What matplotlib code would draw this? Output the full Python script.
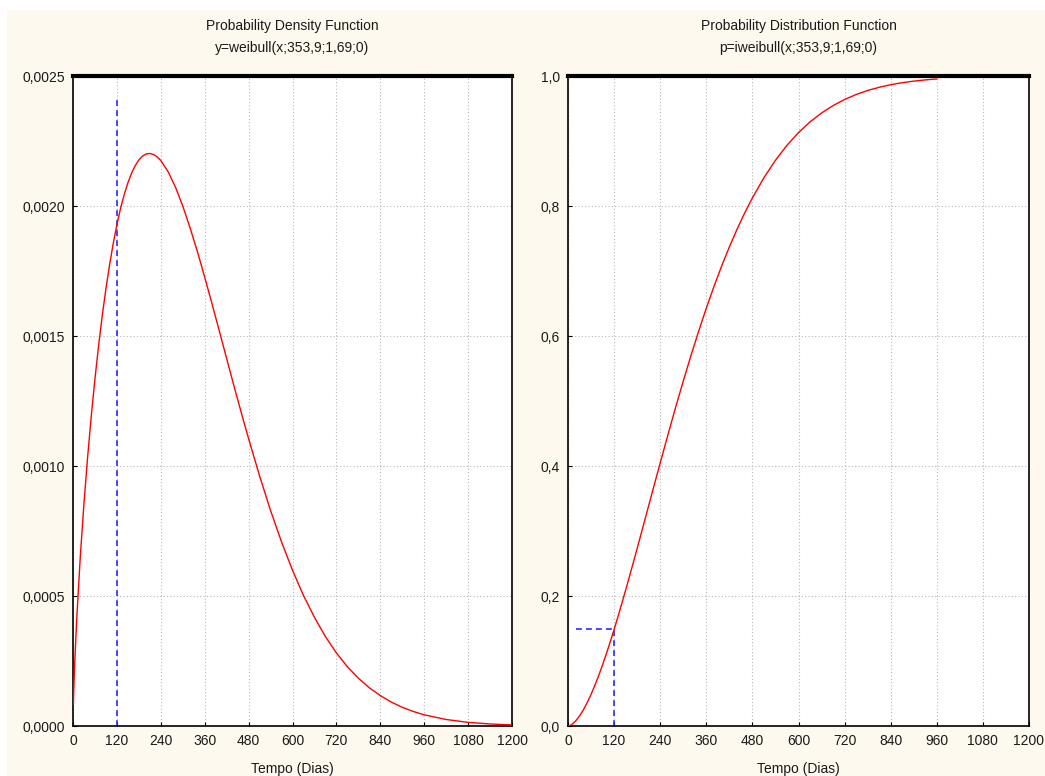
import matplotlib
matplotlib.use('Agg')
import matplotlib.pyplot as plt
from matplotlib.patches import Rectangle
from matplotlib.ticker import FuncFormatter

plt.rcParams['font.family'] = ['Liberation Sans', 'DejaVu Sans']

# valores (Weibull, escala 353,9 ; forma 1,69)
x_pdf = [1, 2, 3, 5, 10, 20, 30, 40, 50, 60, 70, 80, 90, 100, 110, 120, 130, 140, 150, 160,
         170, 180, 190, 200, 210, 220, 230, 240, 260, 280, 300, 320, 340, 360, 380, 400, 420,
         440, 460, 480, 510, 540, 570, 600, 630, 660, 690, 720, 750, 780, 810, 840, 870, 900,
         930, 960, 1020, 1080, 1140, 1200]
y_pdf = [0.000083, 0.000134, 0.000178, 0.000253, 0.000407, 0.000653, 0.000857, 0.001035,
         0.001193, 0.001335, 0.001463, 0.001579, 0.001682, 0.001774, 0.001856, 0.001928,
         0.001991, 0.002044, 0.002089, 0.002126, 0.002155, 0.002177, 0.002192, 0.002200,
         0.002202, 0.002198, 0.002189, 0.002175, 0.002132, 0.002073, 0.002000, 0.001916,
         0.001825, 0.001726, 0.001624, 0.001519, 0.001413, 0.001308, 0.001205, 0.001105,
         0.000962, 0.000829, 0.000708, 0.000599, 0.000502, 0.000418, 0.000344, 0.000281,
         0.000228, 0.000184, 0.000147, 0.000117, 0.000092, 0.000072, 0.000056, 0.000043,
         0.000025, 0.000014, 0.0000078, 0.0000042]

x_cdf = [0, 5, 10, 20, 30, 40, 50, 60, 70, 80, 90, 100, 110, 120, 130, 140, 150, 160, 170,
         180, 190, 200, 210, 220, 230, 240, 260, 280, 300, 320, 340, 360, 380, 400, 420, 440,
         460, 480, 510, 540, 570, 600, 630, 660, 690, 720, 750, 780, 810, 840, 870, 900, 930, 960]
y_cdf = [0.0, 0.0007, 0.0024, 0.0078, 0.0153, 0.0248, 0.0360, 0.0486, 0.0626, 0.0778, 0.0941,
         0.1114, 0.1296, 0.1485, 0.1681, 0.1883, 0.2090, 0.2300, 0.2515, 0.2731, 0.2950,
         0.3170, 0.3390, 0.3610, 0.3830, 0.4047, 0.4478, 0.4899, 0.5306, 0.5698, 0.6072,
         0.6428, 0.6763, 0.7077, 0.7370, 0.7642, 0.7894, 0.8125, 0.8435, 0.8703, 0.8934,
         0.9129, 0.9294, 0.9431, 0.9545, 0.9639, 0.9715, 0.9777, 0.9826, 0.9866, 0.9897,
         0.9921, 0.9940, 0.9955]

x_ticks = [0, 120, 240, 360, 480, 600, 720, 840, 960, 1080, 1200]
pdf_ticks = [0.0, 0.0005, 0.0010, 0.0015, 0.0020, 0.0025]
cdf_ticks = [0.0, 0.2, 0.4, 0.6, 0.8, 1.0]

t_mark = 120        # tempo marcado
p_mark = 0.15       # probabilidade marcada
pdf_line_top = 0.00242

titles = [('Probability Density Function', 'y=weibull(x;353,9;1,69;0)'),
          ('Probability Distribution Function', 'p=iweibull(x;353,9;1,69;0)')]

W, H = 1045, 776
bg = '#fef9ef'
txt = '#1a1a1a'
blue = '#2a2aff'

fig = plt.figure(figsize=(W / 100, H / 100), dpi=100, facecolor='white')
fig.patches.append(Rectangle((7 / W, 0), 1, (H - 10) / H, transform=fig.transFigure,
                             facecolor=bg, edgecolor='none', zorder=-10))

boxes = [(73, 512), (568, 1029)]
top, bottom = 76, 726
axes = []
for (x0, x1) in boxes:
    ax = fig.add_axes([x0 / W, (H - bottom) / H, (x1 - x0) / W, (bottom - top) / H])
    ax.set_facecolor('white')
    axes.append(ax)

ax1, ax2 = axes

ax1.plot(x_pdf, y_pdf, color='#ff0000', lw=1.0, zorder=3)
ax1.plot([t_mark, t_mark], [0, pdf_line_top], color=blue, lw=1.2,
         linestyle=(0, (3.5, 2.5)), zorder=2)
ax1.set_ylim(0, pdf_ticks[-1])
ax1.set_yticks(pdf_ticks)
ax1.yaxis.set_major_formatter(FuncFormatter(lambda v, p: ('%.4f' % v).replace('.', ',')))

ax2.plot(x_cdf, y_cdf, color='#ff0000', lw=1.0, zorder=3)
ax2.plot([20, t_mark], [p_mark, p_mark], color=blue, lw=1.2,
         linestyle=(0, (3.5, 2.5)), zorder=2)
ax2.plot([t_mark, t_mark], [0, p_mark], color=blue, lw=1.2,
         linestyle=(0, (3.5, 2.5)), zorder=2)
ax2.set_ylim(0, cdf_ticks[-1])
ax2.set_yticks(cdf_ticks)
ax2.yaxis.set_major_formatter(FuncFormatter(lambda v, p: ('%.1f' % v).replace('.', ',')))

for ax, (t1, t2), (x0, x1) in zip(axes, titles, boxes):
    ax.set_xlim(0, 1200)
    ax.set_xticks(x_ticks)
    ax.grid(True, linestyle=(0, (1, 2)), color='#b8b8b8', lw=0.8)
    ax.set_axisbelow(True)
    ax.tick_params(direction='in', length=3, width=0.8, labelsize=10, pad=6,
                   colors='black', labelcolor=txt)
    for s in ['left', 'right', 'bottom']:
        ax.spines[s].set_linewidth(1.2)
    ax.spines['top'].set_linewidth(3.0)
    ax.set_xlabel('Tempo (Dias)', fontsize=10, color=txt, labelpad=10)
    cx = (x0 + x1) / 2 / W
    fig.text(cx, 1 - 26 / H, t1, ha='center', va='center', fontsize=10, color=txt)
    fig.text(cx, 1 - 48 / H, t2, ha='center', va='center', fontsize=10, color=txt)

fig.savefig('out.png', dpi=100, facecolor='white')
